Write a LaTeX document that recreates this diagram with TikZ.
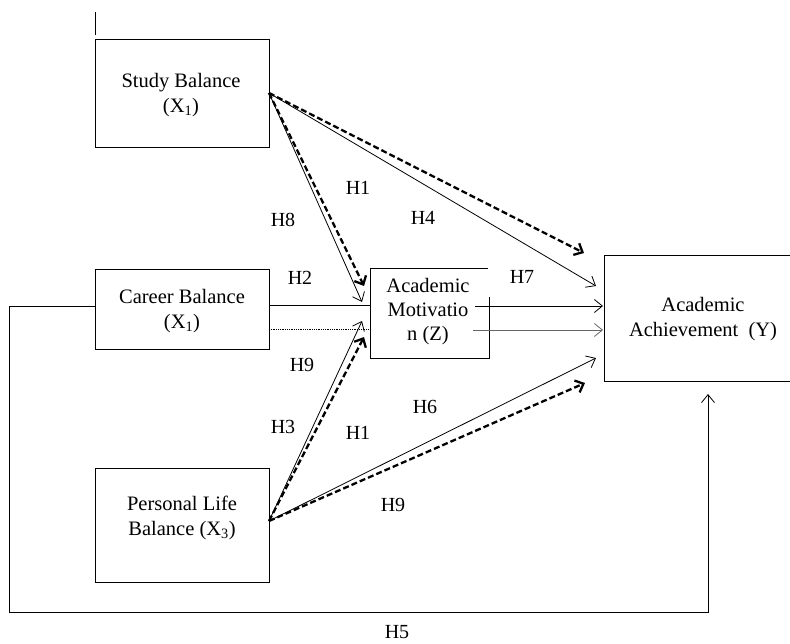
\documentclass[tikz,border=0pt]{standalone}
\usepackage{fontspec}
\setmainfont{Liberation Serif}
\usetikzlibrary{arrows.meta}
\begin{document}
\begin{tikzpicture}[x=1pt,y=-1pt,
  lbl/.style={font=\fontsize{20}{24}\selectfont, inner sep=0pt},
  boxtxt/.style={font=\fontsize{20.5}{25.5}\selectfont, align=center, inner sep=0pt},
  thinarr/.style={line width=0.8pt, -{Straight Barb[length=8pt,width=13pt,line width=0.8pt]}},
  dasharr/.style={line width=2.3pt, dash pattern=on 6pt off 3pt, -{Straight Barb[length=7pt,width=13pt,line width=2.3pt]}},
  frame/.style={line width=1pt}
]
\clip (0,0) rectangle (790,643);
\fill[white] (0,0) rectangle (790,643);
% boxes
\draw[frame] (95,39) rectangle (269,147);
\draw[frame] (95,269) rectangle (269,349);
\draw[frame] (95,468) rectangle (269,582);
\draw[frame] (489,297) -- (489,358) -- (370,358) -- (370,268) -- (488,268);
\draw[frame] (800,255) -- (604,255) -- (604,381) -- (800,381);
\draw[frame] (95,12) -- (95,35);
% texts
\node[boxtxt] (study) at (181,95) {Study Balance\\(X\textsubscript{1})};
\node[boxtxt] (career) at (182,311) {Career Balance\\(X\textsubscript{1})};
\node[boxtxt] (personal) at (182,518) {Personal Life\\Balance (X\textsubscript{3})};
\node[boxtxt, font=\fontsize{20.5}{24}\selectfont] (motiv) at (428,312) {Academic\\Motivatio\\n (Z)};
\node[boxtxt] (achiev) at (703,319) {Academic\\Achievement\ \ (Y)};
% anchor coordinates
\coordinate (sS) at (269,93);
\coordinate (sP) at (269,521);
\coordinate (cA) at (269,305);
\coordinate (cB) at (269,329);
\coordinate (mIn1) at (370,305);
\coordinate (mIn2) at (370,329);
\coordinate (mOut1) at (475,306);
\coordinate (mOut2) at (473,330);
\coordinate (aIn1) at (603,306);
\coordinate (aIn2) at (603,330);
\coordinate (tSM1) at (362,302);
\coordinate (tSM2) at (364,286);
\coordinate (tSA1) at (596,286);
\coordinate (tSA2) at (584,253);
\coordinate (tPM1) at (362,321);
\coordinate (tPM2) at (364,337);
\coordinate (tPA1) at (596,358);
\coordinate (tPA2) at (585,383);
\coordinate (fb0) at (95,306);
\coordinate (fb1) at (9,306);
\coordinate (fb2) at (9,612);
\coordinate (fb3) at (708,612);
\coordinate (fb4) at (708,394);
% connectors
\draw[thinarr] (sS) -- (tSM1);
\draw[dasharr] (sS) -- (tSM2);
\draw[thinarr] (sS) -- (tSA1);
\draw[dasharr] (sS) -- (tSA2);
\draw[thinarr] (sP) -- (tPM1);
\draw[dasharr] (sP) -- (tPM2);
\draw[thinarr] (sP) -- (tPA1);
\draw[dasharr] (sP) -- (tPA2);
\draw[line width=0.8pt] (cA) -- (mIn1);
\draw[line width=0.8pt, densely dotted] (cB) -- (mIn2);
\draw[thinarr] (mOut1) -- (aIn1);
\draw[thinarr, gray!80!black] (mOut2) -- (aIn2);
\draw[thinarr] (fb0) -- (fb1) -- (fb2) -- (fb3) -- (fb4);
% labels
\node[lbl] (h1a) at (358,188) {H1};
\node[lbl] (h4) at (423,218) {H4};
\node[lbl] (h8) at (283,220) {H8};
\node[lbl] (h2) at (300,278) {H2};
\node[lbl] (h7) at (522,277) {H7};
\node[lbl] (h9a) at (302,365) {H9};
\node[lbl] (h3) at (283,427) {H3};
\node[lbl] (h1b) at (358,433) {H1};
\node[lbl] (h6) at (425,407) {H6};
\node[lbl] (h9b) at (393,505) {H9};
\node[lbl] (h5) at (397,632) {H5};
\end{tikzpicture}
\end{document}
